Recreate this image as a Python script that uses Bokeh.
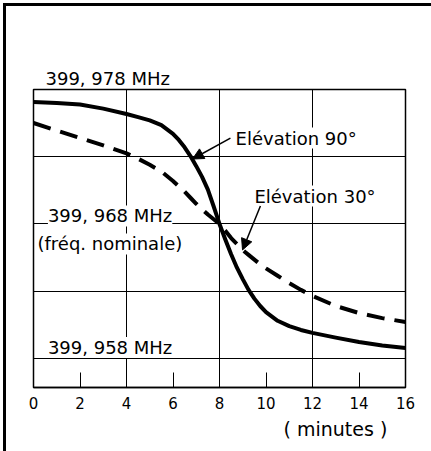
from bokeh.plotting import figure
from bokeh.models import (Range1d, FixedTicker, Label, Arrow, NormalHead,
                          Grid, Title)
from bokeh.embed import file_html
from bokeh.resources import INLINE

# ---- data -------------------------------------------------------------
minutes = [0, 1, 2, 3, 4, 4.5, 5, 5.5, 6, 6.25, 6.5, 6.75, 7, 7.25, 7.5,
           7.75, 8, 8.25, 8.5, 8.75, 9, 9.25, 9.5, 9.75, 10, 10.5, 11,
           11.5, 12, 13, 14, 15, 16]
freq_elev90 = [399.97707, 399.97700, 399.97688, 399.97658, 399.97618,
               399.97595, 399.97570, 399.97535, 399.97470, 399.97425,
               399.97370, 399.97305, 399.97230, 399.97150, 399.97055,
               399.96930, 399.96800, 399.96685, 399.96575, 399.96475,
               399.96390, 399.96310, 399.96245, 399.96190, 399.96145,
               399.96080, 399.96040, 399.96012, 399.95990, 399.95955,
               399.95922, 399.95897, 399.95878]
freq_elev30 = [399.97551, 399.97495, 399.97440, 399.97385, 399.97325,
               399.97285, 399.97240, 399.97190, 399.97120, 399.97080,
               399.97040, 399.96995, 399.96950, 399.96910, 399.96870,
               399.96835, 399.96800, 399.96750, 399.96695, 399.96650,
               399.96605, 399.96570, 399.96535, 399.96500, 399.96470,
               399.96415, 399.96360, 399.96310, 399.96265, 399.96190,
               399.96138, 399.96100, 399.96071]
x_ticks = [0, 2, 4, 6, 8, 10, 12, 14, 16]
x_grid = [4, 8, 12]
freq_grid = [399.958, 399.963, 399.968, 399.973]
top_label = "399, 978 MHz"
freq_labels = ["399, 968 MHz", "399, 958 MHz"]
freq_label_values = [399.968, 399.958]
nominal_note = "(fréq. nominale)"
curve_names = ["Elévation 90°", "Elévation  30°"]
x_title = "( minutes )"

FONT = "DejaVu Sans"
Y_MIN, Y_MAX = 399.95584, 399.978

p = figure(width=431, height=451, x_range=Range1d(0, 16),
           y_range=Range1d(Y_MIN, Y_MAX), output_backend="svg",
           toolbar_location=None, y_axis_location=None,
           min_border_left=33, min_border_right=26,
           min_border_top=89, min_border_bottom=64)
p.background_fill_color = "white"
p.border_fill_color = None
p.outline_line_color = "black"
p.outline_line_width = 1.5
p.outline_line_alpha = 1
p.styles = {"box-shadow": "inset 0 3px 0 0 white, inset 3px 0 0 0 white, "
                          "inset 0 6px 0 0 black, inset 6px 0 0 0 black"}

# grids
for g in p.xgrid:
    g.ticker = FixedTicker(ticks=x_grid)
    g.grid_line_color = "black"
    g.grid_line_width = 1
    g.grid_line_alpha = 1
for g in p.ygrid:
    g.visible = False
p.add_layout(Grid(dimension=1, ticker=FixedTicker(ticks=freq_grid),
                  grid_line_color="black", grid_line_width=1))

# x axis
ax = p.xaxis[0]
ax.ticker = FixedTicker(ticks=x_ticks)
ax.major_tick_in = 15
ax.major_tick_out = 0
ax.major_tick_line_color = "black"
ax.major_tick_line_width = 1
ax.minor_tick_line_color = None
ax.axis_line_color = "black"
ax.axis_line_width = 1.5
ax.major_label_text_font = FONT
ax.major_label_text_font_size = "15px"
ax.major_label_text_color = "black"
ax.major_label_standoff = 9

# top frequency label and x title as titles (outside the frame)
p.add_layout(Title(text=top_label, align="left", offset=12, standoff=2,
                   text_font=FONT, text_font_size="18px",
                   text_font_style="normal", text_color="black"), "above")
p.add_layout(Title(text=x_title, align="left", offset=250, standoff=9,
                   text_font=FONT, text_font_size="19px",
                   text_font_style="normal", text_color="black"), "below")

# curves
p.line(minutes, freq_elev90, line_color="black", line_width=4,
       line_join="round")
p.line(minutes, freq_elev30, line_color="black", line_width=4,
       line_dash="18 10", line_join="round")

# frequency labels inside the frame
lab_offsets = [8, 11]
for txt, v, off in zip(freq_labels, freq_label_values, lab_offsets):
    p.add_layout(Label(x=0.62, y=v, y_offset=off,
                       text=txt, text_font=FONT, text_font_size="18px",
                       text_color="black", text_baseline="alphabetic",
                       background_fill_color="white"))
p.add_layout(Label(x=0.17, y=399.968, y_offset=-20, text=nominal_note,
                   text_font=FONT, text_font_size="18px", text_color="black",
                   text_baseline="alphabetic", background_fill_color="white"))

# curve names + arrows
p.add_layout(Label(x=8.69, y=399.97439, text=curve_names[0], text_font=FONT,
                   text_font_size="18px", text_color="black",
                   text_baseline="alphabetic", background_fill_color="white"))
p.add_layout(Label(x=9.5, y=399.97008, text=curve_names[1], text_font=FONT,
                   text_font_size="18px", text_color="black",
                   text_baseline="alphabetic", background_fill_color="white"))
p.add_layout(Arrow(end=NormalHead(size=11, fill_color="black",
                                  line_color="black"),
                   x_start=8.47, y_start=399.97439, x_end=6.84,
                   y_end=399.97283, line_width=1.5, line_color="black"))
p.add_layout(Arrow(end=NormalHead(size=11, fill_color="black",
                                  line_color="black"),
                   x_start=9.76, y_start=399.96934, x_end=8.99,
                   y_end=399.96607, line_width=1.5, line_color="black"))

open("out.html", "w").write(file_html(p, INLINE))
